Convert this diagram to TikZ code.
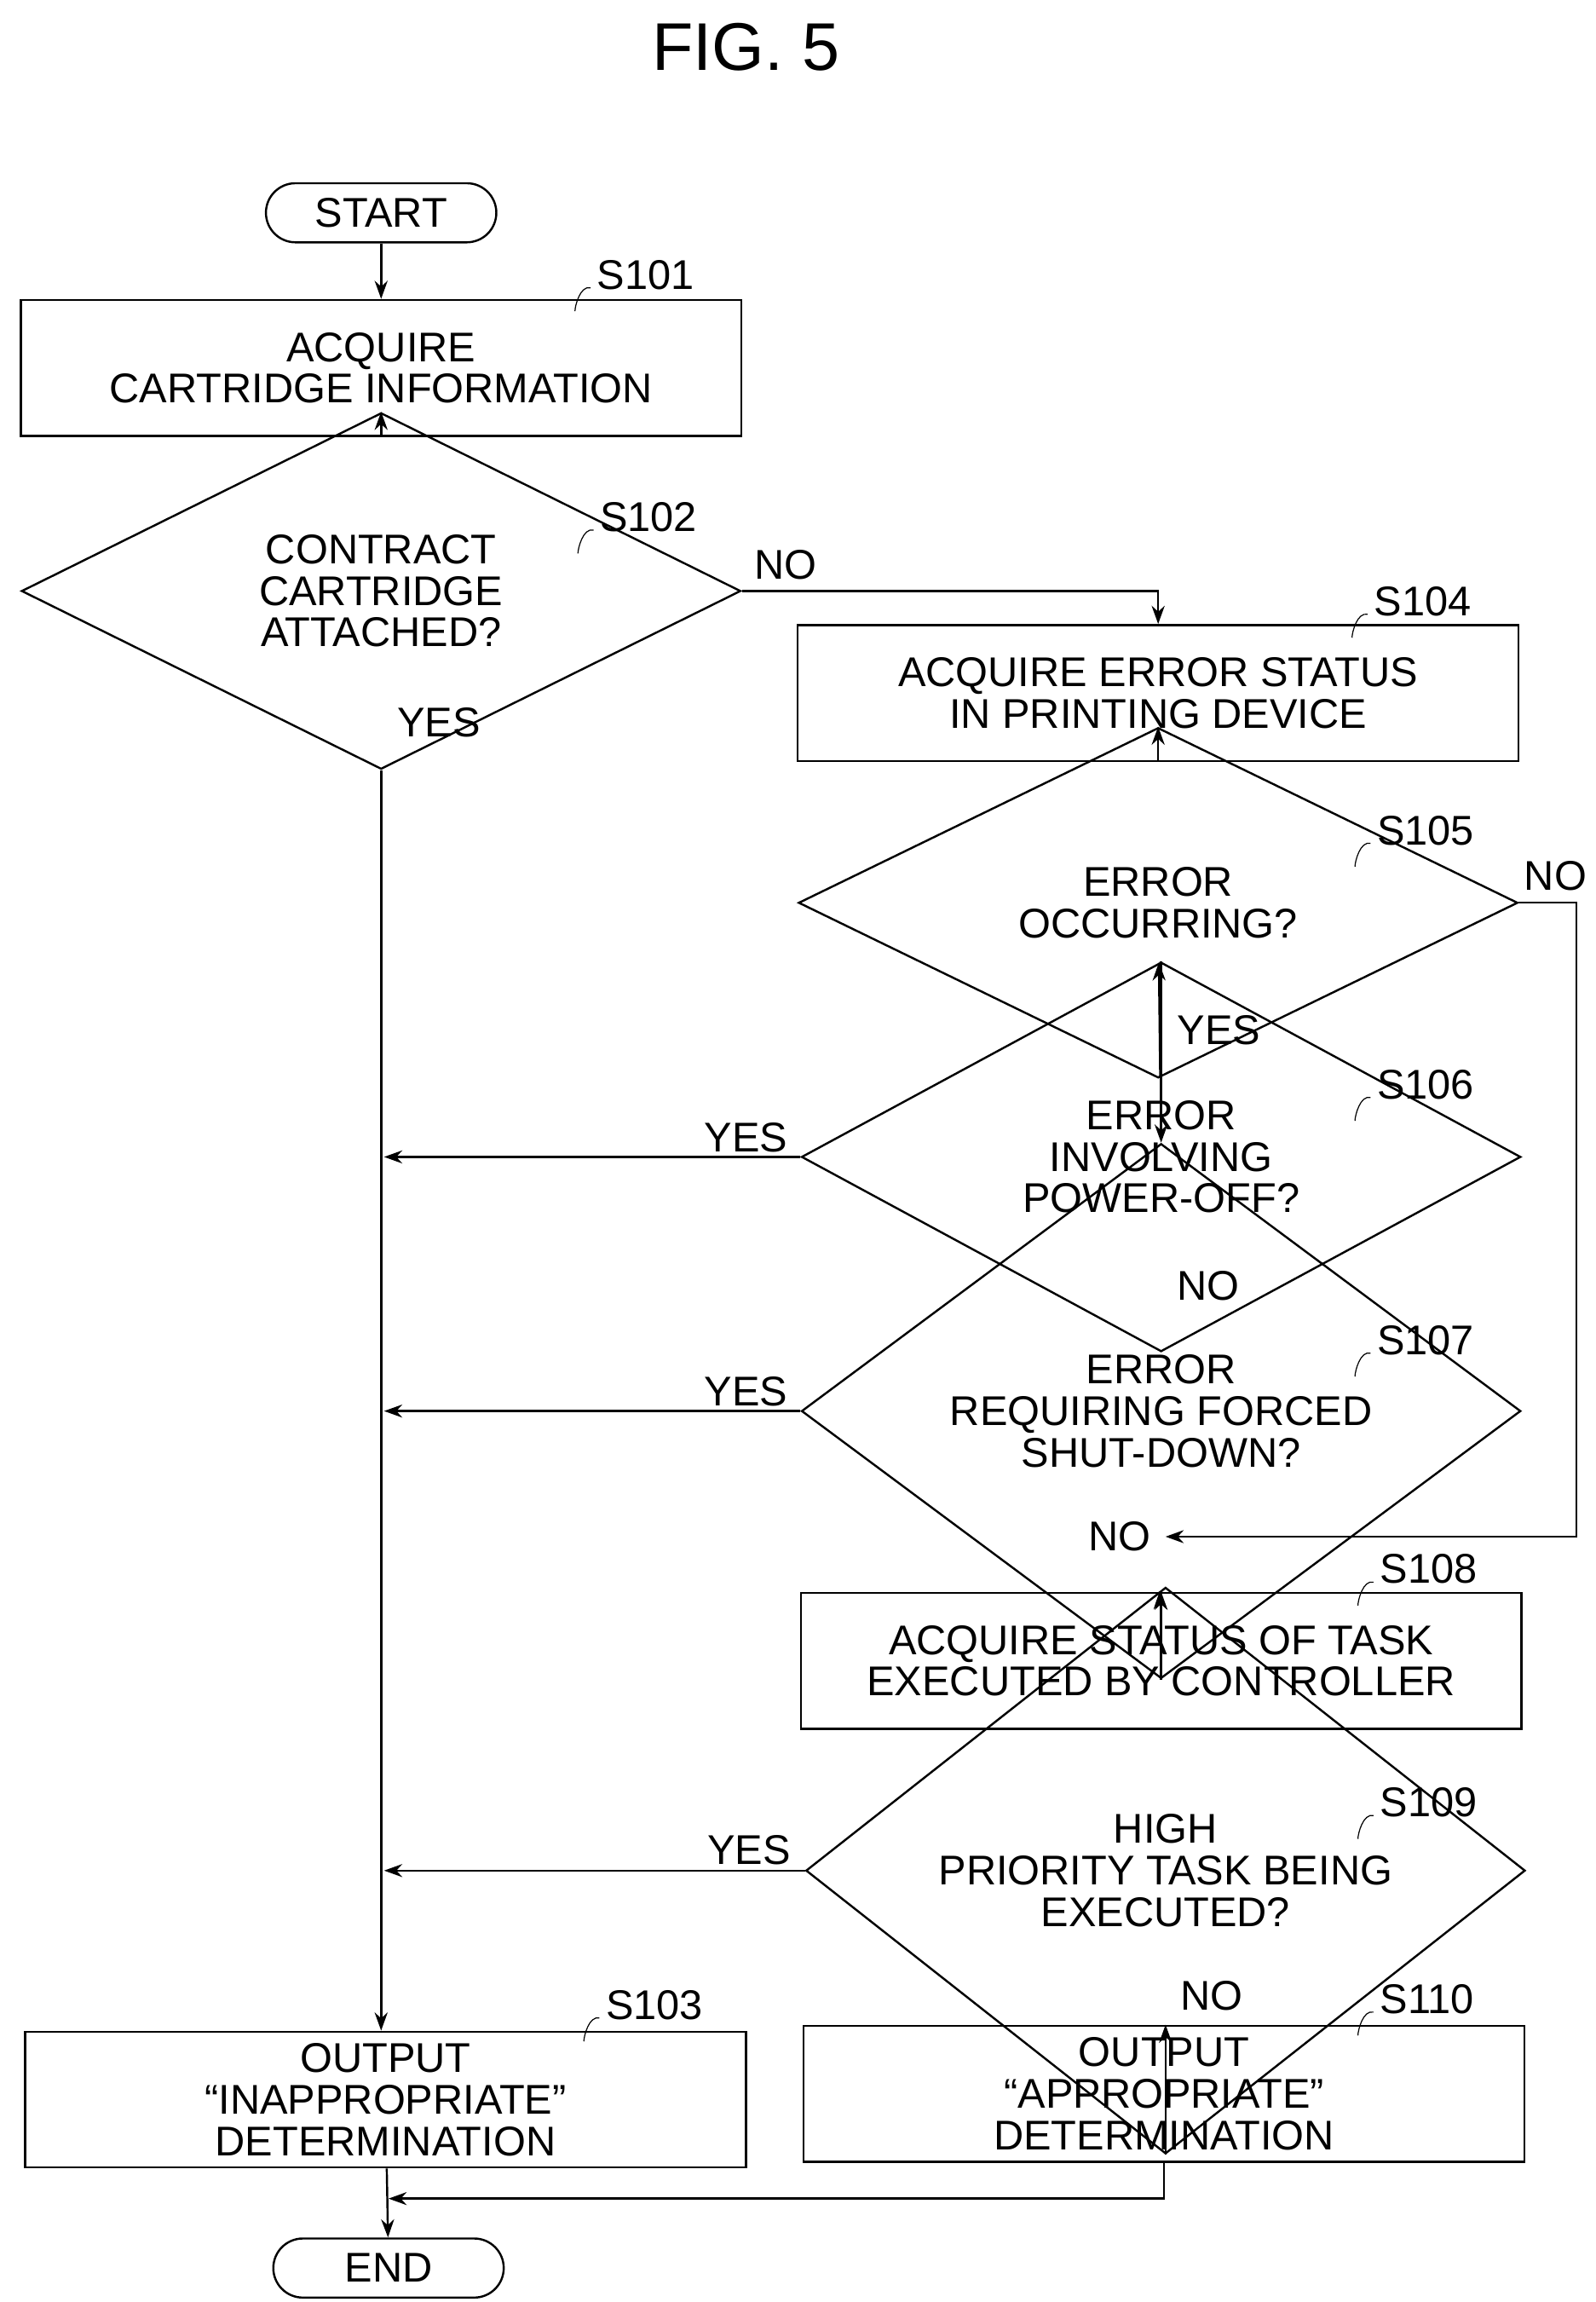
\documentclass[tikz,border=0pt]{standalone}
\usepackage{fontspec}
\setmainfont{Liberation Sans}
\usetikzlibrary{shapes.geometric,arrows.meta}

\begin{document}
\begin{tikzpicture}[x=0.02cm,y=-0.02cm,
  every node/.style={font=\fontsize{16}{16}\selectfont,align=center},
  process/.style={draw,thick,inner sep=0pt,minimum width=9.76cm,minimum height=1.84cm},
  decision/.style={draw,thick,diamond,inner sep=0pt,minimum width=9.74cm,minimum height=2.62cm},
  terminal/.style={draw,thick,rounded corners=0.4cm,minimum width=3.12cm,minimum height=0.8cm},
  steplabel/.style={font=\fontsize{16}{16}\selectfont,anchor=west},
  flow/.style={thick,-{Stealth[length=7pt,width=5pt]}},
  line/.style={thick}
]
\useasboundingbox (0,0) rectangle (1080,1558);
\node[font=\fontsize{26}{26}\selectfont] (title) at (505,32) {FIG. 5};

\node[terminal] (start) at (258,144) {START};
\node[process] (s101) at (258,249) {ACQUIRE\\CARTRIDGE INFORMATION};
\node[decision] (s102) at (258,400) {CONTRACT\\CARTRIDGE\\ATTACHED?};
\node[process] (s104) at (784,469) {ACQUIRE ERROR STATUS\\IN PRINTING DEVICE};
\node[decision] (s105) at (784,611) {ERROR\\OCCURRING?};
\node[decision] (s106) at (786,783) {ERROR\\INVOLVING\\POWER-OFF?};
\node[decision] (s107) at (786,955) {ERROR\\REQUIRING FORCED\\SHUT-DOWN?};
\node[process] (s108) at (786,1124) {ACQUIRE STATUS OF TASK\\EXECUTED BY CONTROLLER};
\node[decision] (s109) at (789,1266) {HIGH\\PRIORITY TASK BEING\\EXECUTED?};
\node[process] (s103) at (261,1421) {OUTPUT\\``INAPPROPRIATE''\\DETERMINATION};
\node[process] (s110) at (788,1417) {OUTPUT\\``APPROPRIATE''\\DETERMINATION};
\node[terminal] (end) at (263,1535) {END};

% step labels
\foreach \n/\x/\y in {S101/398/186,S102/400/350,S104/924/407,S105/926/562,
  S106/926/734,S107/926/907,S108/928/1062,S109/928/1220,S103/404/1357,S110/928/1353}
{
  \node[steplabel] (l\n) at (\x,\y) {\n};
  \draw ([xshift=1pt,yshift=-5pt]l\n.west) .. controls +(-4pt,1pt) and +(0,2pt) .. +(-6pt,-9pt);
}

% main trunk
\draw[flow] (start) -- (s101);
\draw[flow] (s101) -- (s102);
\draw[flow] (s102.south) -- (s103.north -| s102.south);
\draw[flow] (s102.east) -- (784,400) -- (s104.north);
\draw[flow] (s104) -- (s105);
\draw[flow] (s105) -- (s106);
\draw[flow] (s106) -- (s107);
\draw[flow] (s107) -- (s108);
\coordinate (merge) at (789,1040);
\draw[flow] (s105.east) -- (1067,611) -- (1067,1040) -- (merge);
\draw[flow] (s108) -- (s109);
\draw[flow] (s109) -- (s110.north -| s109.south);
\draw[flow] (s106.west) -- (260,783);
\draw[flow] (s107.west) -- (260,955);
\draw[flow] (s109.west) -- (260,1266);
\draw[flow] (s103) -- (end);
\draw[flow] (s110.south) -- (788,1488) -- (263,1488);

% branch labels
\node (no102) at (532,382) {NO};
\node (yes102) at (297,489) {YES};
\node (no105) at (1053,593) {NO};
\node (yes105) at (825,697) {YES};
\node (yes106) at (505,770) {YES};
\node (no106) at (818,870) {NO};
\node (yes107) at (505,942) {YES};
\node (no107) at (758,1040) {NO};
\node (yes109) at (507,1252) {YES};
\node (no109) at (820,1351) {NO};
\end{tikzpicture}
\end{document}
